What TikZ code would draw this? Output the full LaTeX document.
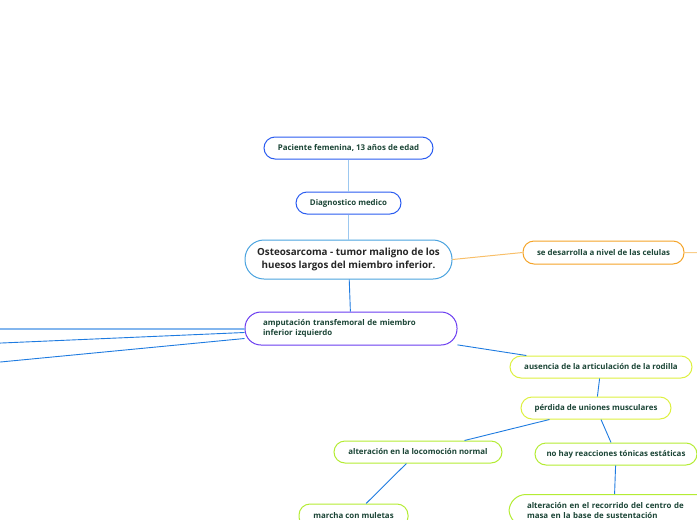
\documentclass[tikz,border=0pt]{standalone}
\usepackage{fontspec}
\setmainfont{Open Sans}
\definecolor{txtgreen}{HTML}{1B4536}
\definecolor{cblue}{HTML}{2A5CF0}
\definecolor{clight}{HTML}{4AA3DF}
\definecolor{corange}{HTML}{F5A428}
\definecolor{cpurple}{HTML}{6A3CF0}
\definecolor{cyellow}{HTML}{DDF040}
\definecolor{clime}{HTML}{B4EC34}
\definecolor{lnblue}{HTML}{1E7BE0}
\definecolor{lnpale}{HTML}{9CC8F0}
\begin{document}
\begin{tikzpicture}[x=1pt,y=-1pt,font=\bfseries\fontsize{7.9}{10}\selectfont,
  topic/.style={draw,line width=1pt,rounded corners=11pt,fill=white,text=txtgreen,
    inner sep=0pt,minimum height=22pt},
  link/.style={lnblue,line width=0.9pt}]
\useasboundingbox (0,0) rectangle (697,520);
% centre line
\node[topic,draw=cblue,minimum width=169pt] (pac) at (348.5,148) {Paciente femenina, 13 años de edad};
\node[topic,draw=cblue,minimum width=105pt] (diag) at (348.5,203) {Diagnostico medico};
\node[topic,draw=clight,minimum width=207pt,minimum height=39pt,rounded corners=19pt,
  text=black!85,align=center,font=\bfseries\fontsize{9.8}{13}\selectfont] (osteo) at (348.5,259.5)
  {Osteosarcoma - tumor maligno de los\\huesos largos del miembro inferior.};
\node[topic,draw=corange,minimum width=161pt,minimum height=23pt] (cel) at (603.5,252.5) {se desarrolla a nivel de las celulas};
\node[topic,draw=cpurple,minimum width=212pt,minimum height=33pt,rounded corners=16pt,
  align=left,text width=176pt,inner xsep=18pt] (amp) at (351,328.5)
  {amputación transfemoral de miembro\\inferior izquierdo};
% right branch
\node[topic,draw=cyellow,minimum width=182pt] (rod) at (601,367) {ausencia de la articulación de la rodilla};
\node[topic,draw=cyellow,minimum width=150pt] (musc) at (596,408) {pérdida de uniones musculares};
\node[topic,draw=clime,minimum width=168pt] (loco) at (418,452) {alteración en la locomoción normal};
\node[topic,draw=clime,minimum width=162pt] (ton) at (616,454) {no hay reacciones tónicas estáticas};
\node[topic,draw=clime,minimum width=109pt,minimum height=24pt] (mul) at (353.5,516) {marcha con muletas};
\node[topic,draw=clime,minimum width=210pt,minimum height=0pt,rounded corners=17pt,
  anchor=north,align=left,text width=174pt,inner xsep=18pt,inner ysep=8pt,
  font=\bfseries\fontsize{7.9}{9.6}\selectfont] (masa) at (614,494)
  {alteración en el recorrido del centro de\\masa en la base de sustentación};
% loose ends
\coordinate (er) at (712,253);
\coordinate (el1) at (-10,329);
\coordinate (el2) at (-10,343.5);
\coordinate (el3) at (-10,363);
% connectors
\draw[lnpale,line width=0.9pt] (pac) -- (diag);
\draw[lnpale,line width=0.9pt] (diag) -- (osteo);
\draw[link] (osteo) -- (amp);
\draw[corange!70,line width=1pt] (osteo.east) -- (cel.west);
\draw[corange!55,line width=1pt] (cel.east) -- (er);
\draw[lnblue!55,line width=2.6pt] (amp.west |- el1) -- (el1);
\draw[link] ([yshift=-4pt]amp.west) -- (el2);
\draw[link] ([yshift=-10pt]amp.west) -- (el3);
\draw[link] (amp) -- (rod);
\draw[link] (rod) -- (musc);
\draw[link] (musc) -- (loco);
\draw[link] (musc) -- (ton);
\draw[link] (loco) -- (mul);
\draw[link] (ton) -- (masa);
\end{tikzpicture}
\end{document}
